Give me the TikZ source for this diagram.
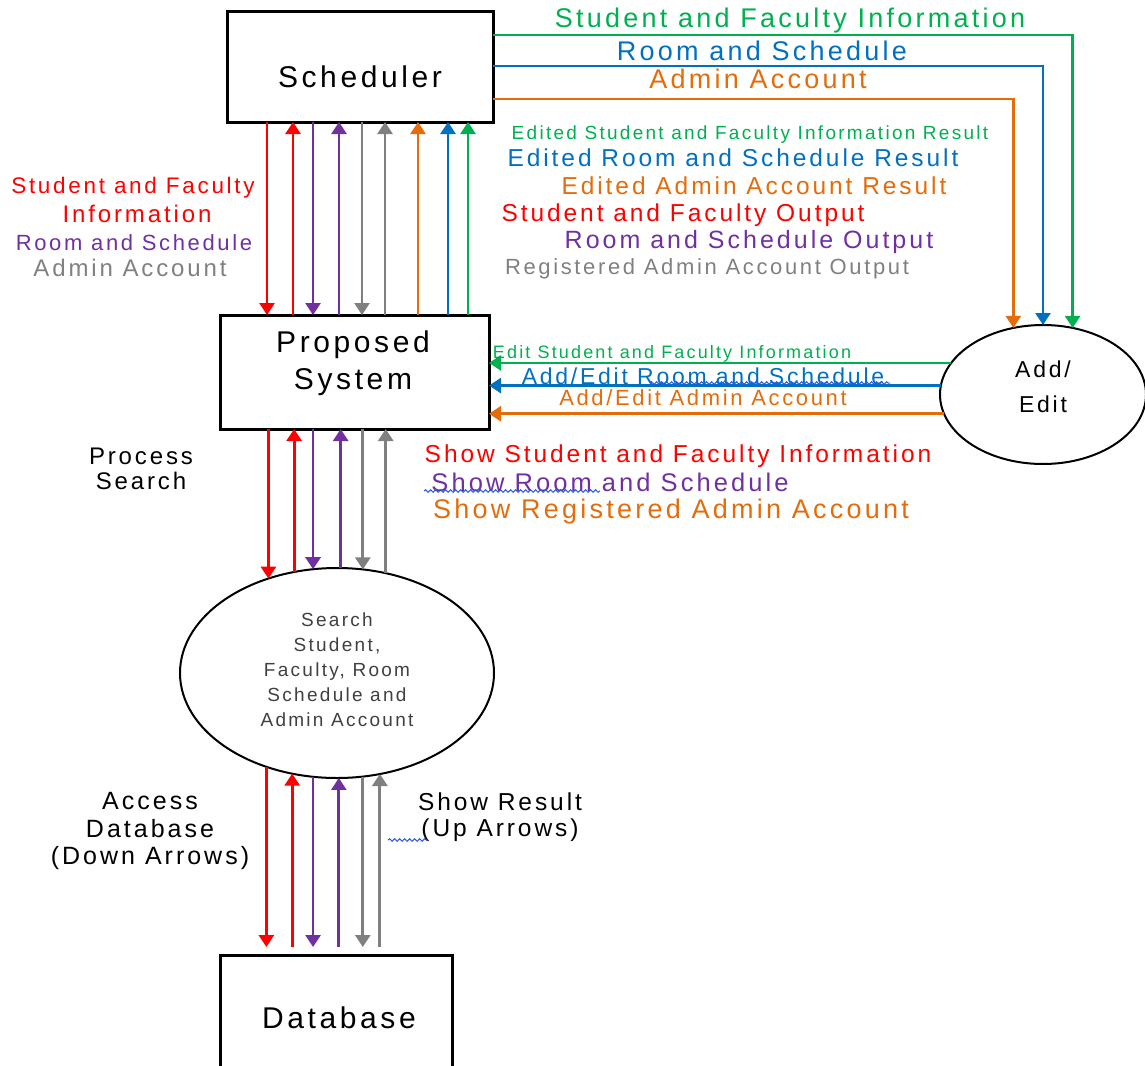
\documentclass[tikz,border=0pt]{standalone}
\usepackage{fontspec}
\setmainfont{Liberation Sans}[LetterSpace=12]
\usetikzlibrary{arrows.meta, positioning, shapes.geometric, decorations.pathmorphing}

\definecolor{cred}{RGB}{255,0,0}
\definecolor{cpurple}{RGB}{112,48,160}
\definecolor{cgray}{RGB}{128,128,128}
\definecolor{corange}{RGB}{228,108,10}
\definecolor{cblue}{RGB}{0,112,192}
\definecolor{cgreen}{RGB}{0,176,80}
\definecolor{cspell}{RGB}{40,90,230}

\begin{document}
\begin{tikzpicture}[
		x=1pt, y=-1pt,
		box/.style= {
				draw,
				rectangle,
				line width=3pt,
				outer sep=0pt
			},
		bubble/.style= {
				draw,
				ellipse,
				line width=2pt,
				inner sep=0pt,
				outer sep=0pt
			},
		flow/.style= {
				line width=2.8pt,
				-{Triangle[length=12pt, width=15pt]}
			},
		lbl/.style= {
				inner sep=0pt,
				align=center
			},
		spell/.style= {
				draw=cspell,
				line width=1pt,
				decorate,
				decoration={snake, amplitude=1.3pt, segment length=5pt}
			}
	]

	\useasboundingbox (0,0) rectangle (1145,1065);

	% boxes and processes
	\node[box, minimum width=266pt, minimum height=110pt] (sched) at (360,67) {};
	\node[box, minimum width=269pt, minimum height=114pt] (prop) at (354.5,372) {};
	\node[bubble, minimum width=314pt, minimum height=210pt] (srch) at (337,673) {};
	\node[box, minimum width=232pt, minimum height=126pt] (db) at (336,1018) {};
	\node[bubble, minimum width=206pt, minimum height=139pt] (edit) at (1043,394.5) {};

	\node[lbl, font=\fontsize{30}{35}\selectfont] (schedtxt) at (360,77) {Scheduler};
	\node[lbl, font=\fontsize{30}{37}\selectfont] (proptxt) at (353,363) {Proposed\\System};
	\node[lbl, font=\fontsize{19}{25}\selectfont, text=black!75] (srchtxt) at (337,670) {Search\\Student,\\Faculty, Room\\Schedule and\\Admin Account};
	\node[lbl, font=\fontsize{30}{35}\selectfont] (dbtxt) at (339,1018) {Database};
	\node[lbl, font=\fontsize{23}{35}\selectfont] (edittxt) at (1043,387) {Add/\\Edit};

	% Scheduler -> Proposed System
	\coordinate (s1) at ([xshift=-93pt]sched.south);
	\coordinate (s2) at ([xshift=-67pt]sched.south);
	\coordinate (s3) at ([xshift=-47pt]sched.south);
	\coordinate (s4) at ([xshift=-21pt]sched.south);
	\coordinate (s5) at ([xshift=2pt]sched.south);
	\coordinate (s6) at ([xshift=25pt]sched.south);
	\coordinate (s7) at ([xshift=58pt]sched.south);
	\coordinate (s8) at ([xshift=88pt]sched.south);
	\coordinate (s9) at ([xshift=108pt]sched.south);
	\draw[flow, cred] (s1) -- (s1 |- prop.north);
	\draw[flow, cred] (s2 |- prop.north) -- (s2);
	\draw[flow, cpurple] (s3) -- (s3 |- prop.north);
	\draw[flow, cpurple] (s4 |- prop.north) -- (s4);
	\draw[flow, cgray] (s5) -- (s5 |- prop.north);
	\draw[flow, cgray] (s6 |- prop.north) -- (s6);
	\draw[flow, corange] (s7 |- prop.north) -- (s7);
	\draw[flow, cblue] (s8 |- prop.north) -- (s8);
	\draw[flow, cgreen] (s9 |- prop.north) -- (s9);

	% Proposed System -> Search
	\draw[flow, cred] (srch.126.7 |- prop.south) -- (srch.126.7);
	\draw[flow, cred] (srch.113.6) -- (srch.113.6 |- prop.south);
	\draw[flow, cpurple] (srch.103 |- prop.south) -- (srch.103);
	\draw[flow, cpurple] (srch.88.9) -- (srch.88.9 |- prop.south);
	\draw[flow, cgray] (srch.76.4 |- prop.south) -- (srch.76.4);
	\draw[flow, cgray] (srch.64.4) -- (srch.64.4 |- prop.south);

	% Search -> Database
	\coordinate (dbtop) at ([yshift=8pt]db.north);
	\draw[flow, cred] (srch.233.3) -- (srch.233.3 |- dbtop);
	\draw[flow, cred] (srch.246.4 |- dbtop) -- (srch.246.4);
	\draw[flow, cpurple] (srch.257) -- (srch.257 |- dbtop);
	\draw[flow, cpurple] (srch.271.6 |- dbtop) -- (srch.271.6);
	\draw[flow, cgray] (srch.284.6) -- (srch.284.6 |- dbtop);
	\draw[flow, cgray] (srch.293.6 |- dbtop) -- (srch.293.6);

	% Scheduler -> Add/Edit and back
	\draw[flow, line width=2.5pt, cgreen] ([yshift=32pt]sched.east) -| (edit.66.7);
	\draw[flow, line width=2.5pt, cblue] ([yshift=1pt]sched.east) -| (edit.90);
	\draw[flow, line width=2.5pt, corange] ([yshift=-32pt]sched.east) -| (edit.114.1);
	\draw[flow, line width=2.5pt, cgreen] (edit.161.1) -- (edit.161.1 -| prop.east);
	\draw[flow, line width=2.5pt, cblue] (edit.175.8) -- (edit.175.8 -| prop.east);
	\draw[flow, line width=2.5pt, corange] (edit.191.1) -- (edit.191.1 -| prop.east);

	% flow labels
	\node[lbl, text=cgreen, font=\fontsize{27}{30}\selectfont] (t1) at (790,21) {Student and Faculty Information};
	\node[lbl, text=cblue, font=\fontsize{27}{30}\selectfont] (t2) at (762,51) {Room and Schedule};
	\node[lbl, text=corange, font=\fontsize{27}{30}\selectfont] (t3) at (758,79) {Admin Account};

	\node[lbl, text=cgreen, font=\fontsize{19}{22}\selectfont] (e1) at (750,135) {Edited Student and Faculty Information Result};
	\node[lbl, text=cblue, font=\fontsize{24.5}{28}\selectfont] (e2) at (733,158) {Edited Room and Schedule Result};
	\node[lbl, text=corange, font=\fontsize{24.5}{28}\selectfont] (e3) at (754,186) {Edited Admin Account Result};
	\node[lbl, text=cred, font=\fontsize{24.5}{28}\selectfont] (e4) at (683,215) {Student and Faculty Output};
	\node[lbl, text=cpurple, font=\fontsize{25}{28}\selectfont] (e5) at (749,242) {Room and Schedule Output};
	\node[lbl, text=cgray, font=\fontsize{22}{26}\selectfont] (e6) at (707,269) {Registered Admin Account Output};

	\node[lbl, text=cred, font=\fontsize{22.5}{26}\selectfont] (l1) at (133,188) {Student and Faculty};
	\node[lbl, text=cred, font=\fontsize{24}{26}\selectfont] (l2) at (137,214) {Information};
	\node[lbl, text=cpurple, font=\fontsize{22}{26}\selectfont] (l3) at (134,243) {Room and Schedule};
	\node[lbl, text=cgray, font=\fontsize{24}{26}\selectfont] (l4) at (130,268) {Admin Account};

	\node[lbl, text=cgreen, font=\fontsize{18}{22}\selectfont] (a1) at (672,354) {Edit Student and Faculty Information};
	\node[lbl, text=cblue, font=\fontsize{23}{26}\selectfont] (a2) at (703,376) {Add/Edit Room and Schedule};
	\node[lbl, text=corange, font=\fontsize{22}{26}\selectfont] (a3) at (703,398) {Add/Edit Admin Account};

	\node[lbl, text=cred, font=\fontsize{24.5}{28}\selectfont] (r1) at (678,456) {Show Student and Faculty Information};
	\node[lbl, text=cpurple, font=\fontsize{25.5}{28}\selectfont] (r2) at (610,482) {Show Room and Schedule};
	\node[lbl, text=corange, font=\fontsize{27}{30}\selectfont] (r3) at (671,512) {Show Registered Admin Account};

	\node[lbl, font=\fontsize{24}{25}\selectfont] (ps) at (141,469) {Process\\Search};
	\node[lbl, font=\fontsize{25}{27.5}\selectfont] (acc) at (150,831) {Access\\Database\\(Down Arrows)};
	\node[lbl, font=\fontsize{24.5}{26}\selectfont] (res) at (500,817) {Show Result\\(Up Arrows)};

	% spell check marks
	\draw[spell] (650,383) -- (890,383);
	\draw[spell] (424,491) -- (600,491);
	\draw[spell] (388,840) -- (428,840);
\end{tikzpicture}
\end{document}
